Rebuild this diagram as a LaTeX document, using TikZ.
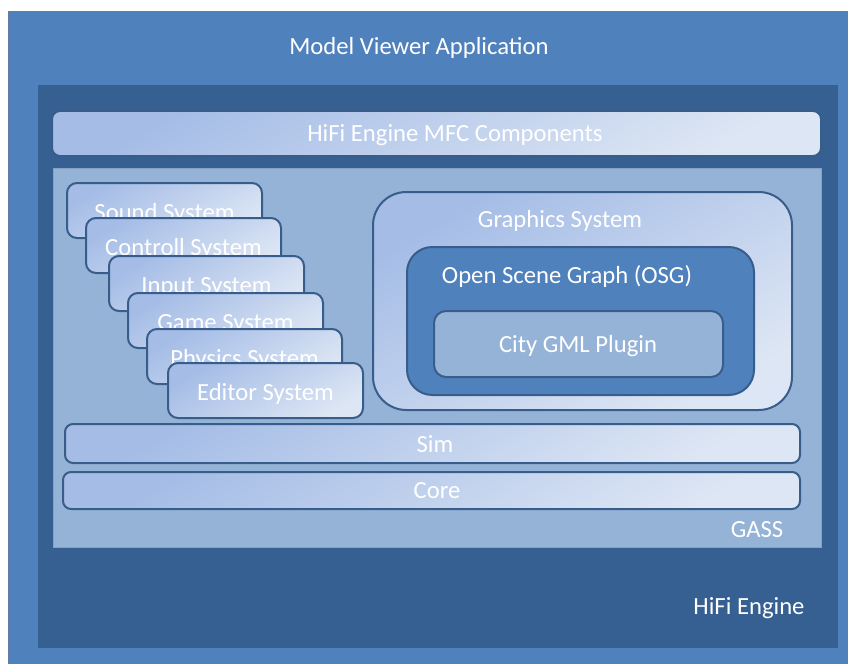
\documentclass[tikz,border=0pt]{standalone}
\usepackage{fontspec}
\setmainfont{Carlito}
\usepackage{tikz}
\definecolor{appblue}{RGB}{79, 129, 189}
\definecolor{engineblue}{RGB}{54, 96, 146}
\definecolor{gassblue}{RGB}{149, 179, 215}
\definecolor{boxline}{RGB}{56, 93, 138}
\definecolor{gradtop}{RGB}{164, 188, 230}
\definecolor{gradbot}{RGB}{221, 230, 244}

\tikzset{
  layer/.style={draw=boxline, line width=1.5pt, rounded corners=7.5pt,
    top color=gradtop, bottom color=gradbot, shading angle=30},
  caption/.style={text=white, font=\fontsize{18.5}{22}\selectfont, inner sep=0pt, anchor=base}
}

\begin{document}
\begin{tikzpicture}[x=0.75pt,y=-0.75pt]
  \useasboundingbox (0,0) rectangle (848,663);
  % frames
  \draw[fill=appblue, draw=boxline!80] (8,11) rectangle (870,690);
  \fill[engineblue] (38,85) rectangle (838,648);
  \draw[layer, rounded corners=6pt] (52,111) rectangle (821,156);
  \draw[fill=gassblue, draw=gassblue!90!black, line width=0.6pt] (53,168) rectangle (821,547);
  \node[caption] (app) at (419,55) {Model Viewer Application};
  \node[caption] (mfc) at (455,142) {HiFi Engine MFC Components};
  \node[caption] (gass) at (757,537) {GASS};
  \node[caption] (engine) at (749,614) {HiFi Engine};

  % subsystems
  \foreach \x/\y/\name/\txt in {67/183/sound/Sound System, 86/218/control/Controll System,
      109/256/input/Input System, 128/293/game/Game System,
      147/329/physics/Physics System, 168/363/editor/Editor System}
  {
    \draw[layer] (\x,\y) rectangle ++(195,55);
    \node[caption] (\name) at (\x+97.5,\y+37) {\txt};
  }

  % graphics
  \draw[layer, rounded corners=25pt] (373,192) rectangle (792,410);
  \draw[fill=appblue, draw=boxline, line width=1.5pt, rounded corners=19pt] (407,247) rectangle (754,395);
  \draw[fill=gassblue, draw=boxline, line width=1.5pt, rounded corners=9pt] (434,311) rectangle (723,377);
  \node[caption] (graphics) at (560,227) {Graphics System};
  \node[caption] (osg) at (567,283) {Open Scene Graph (OSG)};
  \node[caption] (citygml) at (578,352) {City GML Plugin};

  % base layers
  \draw[layer, rounded corners=6pt] (65,424) rectangle (800,463);
  \draw[layer, rounded corners=6pt] (63,472) rectangle (800,509);
  \node[caption] (sim) at (435,452) {Sim};
  \node[caption] (core) at (437,498) {Core};
\end{tikzpicture}
\end{document}
